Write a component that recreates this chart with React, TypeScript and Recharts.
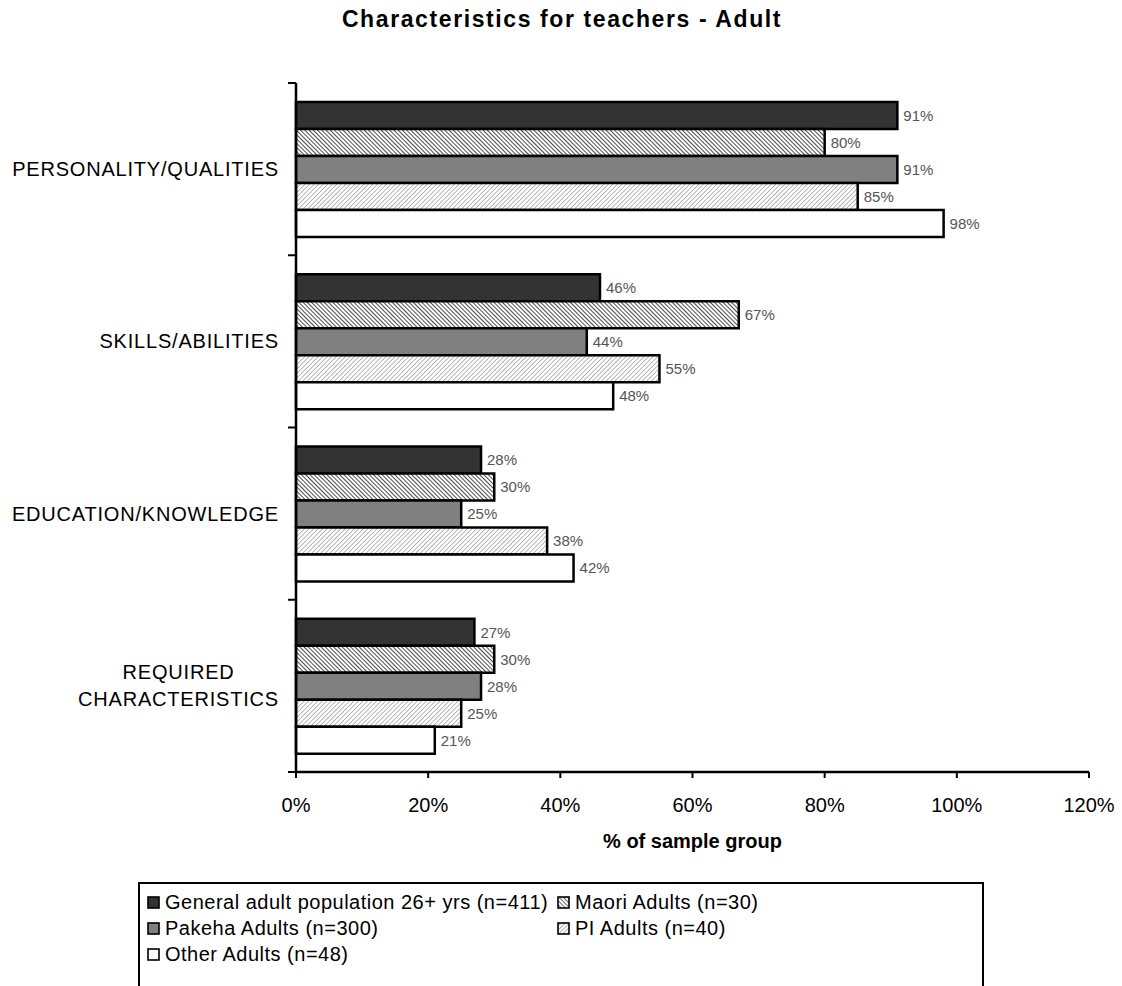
import React from "react";
import { BarChart, Bar, XAxis, YAxis, LabelList, Legend, Label } from "recharts";

const categories = [
  "PERSONALITY/QUALITIES",
  "SKILLS/ABILITIES",
  "EDUCATION/KNOWLEDGE",
  "REQUIRED CHARACTERISTICS",
];
const generalAdult = [91, 46, 28, 27];
const maoriAdults = [80, 67, 30, 30];
const pakehaAdults = [91, 44, 25, 28];
const piAdults = [85, 55, 38, 25];
const otherAdults = [98, 48, 42, 21];
const xTicks = [0, 20, 40, 60, 80, 100, 120];

const seriesNames = {
  general: "General adult population 26+ yrs (n=411)",
  maori: "Maori Adults (n=30)",
  pakeha: "Pakeha Adults (n=300)",
  pi: "PI Adults (n=40)",
  other: "Other Adults (n=48)",
};

const data = categories.map((c, i) => ({
  category: c,
  general: generalAdult[i],
  maori: maoriAdults[i],
  pakeha: pakehaAdults[i],
  pi: piAdults[i],
  other: otherAdults[i],
}));

// boundaries between category bands, expressed on the helper axis (index domain 0..n-1)
const nCat = categories.length;
const bandTicks = Array.from({ length: nCat + 1 }, (_, i) => (i * (nCat - 1)) / nCat);

const FONT = '"Liberation Sans", Arial, sans-serif';
const LS = 0.8;

const fills: Record<string, string> = {
  general: "#333333",
  maori: "url(#hatchMaori)",
  pakeha: "#808080",
  pi: "url(#hatchPI)",
  other: "#ffffff",
};

function measure(text: string, size: number) {
  let w = text.length * size * 0.6;
  if (typeof document !== "undefined") {
    const c = document.createElement("canvas").getContext("2d");
    if (c) {
      c.font = `${size}px ${FONT}`;
      w = c.measureText(text).width;
    }
  }
  return w + text.length * LS;
}

const CatTick = (props: any) => {
  const { x, y, payload } = props;
  const size = 20;
  const maxW = 272;
  const words = String(payload.value).split(" ");
  const lines: string[] = [];
  let cur = "";
  words.forEach((w) => {
    const t = cur ? cur + " " + w : w;
    if (cur && measure(t, size) > maxW) {
      lines.push(cur);
      cur = w;
    } else cur = t;
  });
  if (cur) lines.push(cur);
  const widest = Math.max(...lines.map((l) => measure(l, size)));
  const cx = x - widest / 2;
  const lh = 27;
  const startY = y - ((lines.length - 1) * lh) / 2;
  return (
    <text
      x={cx}
      y={startY}
      textAnchor="middle"
      fontFamily={FONT}
      fontSize={size}
      fill="#000"
      letterSpacing={LS}
      dominantBaseline="central"
    >
      {lines.map((l, i) => (
        <tspan key={i} x={cx} y={startY + i * lh} dominantBaseline="central">
          {l}
        </tspan>
      ))}
    </text>
  );
};

const EmptyTick = () => <g />;

const Swatch = ({ k }: { k: string }) => (
  <svg width={13} height={13} style={{ marginRight: 5, flex: "none" }}>
    <defs>
      <pattern id={`lg-${k}`} patternUnits="userSpaceOnUse" width={3} height={3}
        patternTransform={k === "maori" ? "rotate(-45)" : "rotate(45)"}>
        <rect width={3} height={3} fill="#fff" />
        <line x1={0} y1={0} x2={0} y2={3} stroke={k === "maori" ? "#000" : "#777"} strokeWidth={1.2} />
      </pattern>
    </defs>
    <rect x={1} y={1} width={11} height={11}
      fill={k === "maori" || k === "pi" ? `url(#lg-${k})` : fills[k]}
      stroke="#000" strokeWidth={1.6} />
  </svg>
);

const LegendItem = ({ k }: { k: string }) => (
  <div style={{ display: "flex", alignItems: "center", height: 26 }}>
    <Swatch k={k} />
    <span>{(seriesNames as any)[k]}</span>
  </div>
);

const LegendBox = () => (
  <div
    style={{
      width: "100%",
      height: "100%",
      boxSizing: "border-box",
      border: "2px solid #000",
      borderBottom: "none",
      fontFamily: FONT,
      fontSize: 20,
      color: "#000",
      padding: "5px 0 0 7px",
      display: "grid",
      gridTemplateColumns: "410px auto",
      gridAutoRows: "26px",
      letterSpacing: "0.5px",
    }}
  >
    <LegendItem k="general" />
    <LegendItem k="maori" />
    <LegendItem k="pakeha" />
    <LegendItem k="pi" />
    <LegendItem k="other" />
  </div>
);

export default function App() {
  const keys = ["general", "maori", "pakeha", "pi", "other"];
  return (
    <div style={{ position: "absolute", left: 0, top: 0, width: 1122, height: 986, background: "#fff" }}>
      <div
        style={{
          position: "absolute",
          left: 0,
          top: 6,
          width: 1124,
          textAlign: "center",
          fontFamily: FONT,
          fontWeight: "bold",
          fontSize: 23,
          letterSpacing: "1.6px",
          color: "#000",
        }}
      >
        Characteristics for teachers - Adult
      </div>
      <BarChart
        width={1122}
        height={986}
        data={data}
        layout="vertical"
        margin={{ top: 83, right: 33, left: 0, bottom: 134 }}
        barCategoryGap="11%"
        barGap={0}
      >
        <defs>
          <pattern id="hatchMaori" patternUnits="userSpaceOnUse" width={3} height={3} patternTransform="rotate(-45)">
            <rect width={3} height={3} fill="#fff" />
            <line x1={0} y1={0} x2={0} y2={3} stroke="#000" strokeWidth={1.4} />
          </pattern>
          <pattern id="hatchPI" patternUnits="userSpaceOnUse" width={3.2} height={3.2} patternTransform="rotate(45)">
            <rect width={3.2} height={3.2} fill="#fff" />
            <line x1={0} y1={0} x2={0} y2={3.2} stroke="#808080" strokeWidth={1.1} />
          </pattern>
        </defs>
        <XAxis
          type="number"
          domain={[0, 120]}
          ticks={xTicks}
          tickFormatter={(v) => `${v}%`}
          axisLine={{ stroke: "#000", strokeWidth: 2.5 }}
          tickLine={{ stroke: "#000", strokeWidth: 2 }}
          tickSize={6}
          tickMargin={20}
          tick={{ fill: "#000", fontSize: 20, fontFamily: FONT }}
          height={80}
        >
          <Label
            value="% of sample group"
            position="insideBottom"
            offset={4}
            style={{ fontFamily: FONT, fontSize: 20, fontWeight: "bold", fill: "#000" }}
          />
        </XAxis>
        <YAxis
          yAxisId="a"
          type="number"
          domain={[0, nCat - 1]}
          ticks={bandTicks}
          interval={0}
          tick={<EmptyTick />}
          axisLine={{ stroke: "#000", strokeWidth: 2.5 }}
          tickLine={{ stroke: "#000", strokeWidth: 2 }}
          tickSize={8}
          width={1}
        />
        <YAxis
          yAxisId="b"
          type="category"
          dataKey="category"
          axisLine={false}
          tickLine={false}
          tickSize={0}
          tickMargin={16}
          width={295}
          tick={<CatTick />}
          interval={0}
        />
        {keys.map((k) => (
          <Bar
            key={k}
            yAxisId="b"
            dataKey={k}
            name={(seriesNames as any)[k]}
            fill={fills[k]}
            stroke="#000"
            strokeWidth={2.5}
            isAnimationActive={false}
          >
            <LabelList
              dataKey={k}
              position="right"
              offset={6}
              formatter={(v: any) => `${v}%`}
              fill="#555"
              fontSize={15}
              fontFamily={FONT}
            />
          </Bar>
        ))}
        <Legend
          layout="horizontal"
          verticalAlign="middle"
          align="center"
          content={() => <LegendBox />}
          wrapperStyle={{ left: 138, top: 882, width: 846, height: 104 }}
        />
      </BarChart>
    </div>
  );
}
